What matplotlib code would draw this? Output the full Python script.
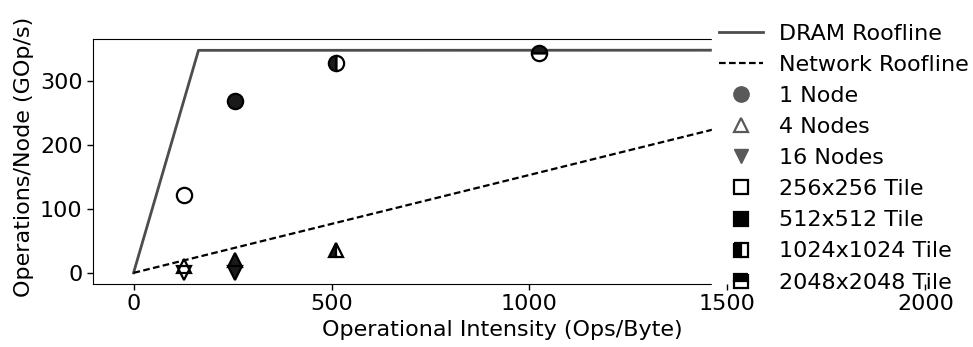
import numpy as np
import matplotlib
matplotlib.use("Agg")
import matplotlib.pyplot as plt
from matplotlib.lines import Line2D

# ---- data ----
roof_x = [0, 164, 2048]
dram_peak = 348
dram_bw = 2.12
net_bw = 0.153
dram_y = [min(dram_peak, dram_bw * v) for v in roof_x]
net_x = [0, 2048]
net_y = [net_bw * v for v in net_x]

tiles = ["256x256 Tile", "512x512 Tile", "1024x1024 Tile", "2048x2048 Tile"]
tile_fill = ["none", "full", "left", "top"]

node_labels = ["1 Node", "4 Nodes", "16 Nodes"]
node_markers = ["o", "^", "v"]
one_node_x = [128, 256, 512, 1024]
one_node_y = [122, 268, 328, 344]
one_node_t = [0, 1, 2, 3]
four_node_x = [128, 256, 512]
four_node_y = [11, 20, 36]
four_node_t = [0, 1, 2]
sixteen_node_x = [128, 256]
sixteen_node_y = [0, 0]
sixteen_node_t = [0, 1]

FS = 16
plt.rcParams['font.family'] = ['DejaVu Sans']
fig = plt.figure(figsize=(9.73, 3.47), dpi=100)
ax = fig.add_axes([93/973, 1-284/347, (985-93)/973, (284-39)/347])
ax.set_axisbelow(False)

ax.plot(roof_x, dram_y, color='0.3', lw=2, zorder=2)
ax.plot(net_x, net_y, color='black', lw=1.6, ls=(0, (3, 1.5)), zorder=2)

series = [(one_node_x, one_node_y, one_node_t, node_markers[0], 11),
          (four_node_x, four_node_y, four_node_t, node_markers[1], 10),
          (sixteen_node_x, sixteen_node_y, sixteen_node_t, node_markers[2], 10)]
for xs, ys, ts, mk, ms in series:
    for x, y, t in zip(xs, ys, ts):
        ax.plot([x], [y], marker=mk, ms=ms, mew=1.6, mec='black',
                mfc='0.1', mfcalt='white', fillstyle=tile_fill[t],
                ls='none', zorder=3)

ax.set_xticks([0, 500, 1000, 1500, 2000])
ax.set_yticks([0, 100, 200, 300])
ax.tick_params(labelsize=FS, length=4, width=1)
ax.set_xlabel("Operational Intensity (Ops/Byte)", fontsize=FS)
ax.set_ylabel("Operations/Node (GOp/s)", fontsize=FS)
ax.xaxis.set_label_coords((502-93)/(985-93), -0.145)
ax.yaxis.set_label_coords(-0.066, 0.52)
for s in ax.spines.values():
    s.set_zorder(2.2)

handles = [
    Line2D([], [], color='0.3', lw=2),
    Line2D([], [], color='black', lw=1.6, ls=(0, (3, 1.5))),
    Line2D([], [], marker='o', ls='none', ms=11, color='0.35'),
    Line2D([], [], marker='^', ls='none', ms=10, mfc='none', mec='0.35', mew=1.6),
    Line2D([], [], marker='v', ls='none', ms=10, color='0.35'),
]
for f in tile_fill:
    handles.append(Line2D([], [], marker='s', ls='none', ms=10, mec='black',
                          mfc='black', mfcalt='white', fillstyle=f, mew=1.6))
labels = ["DRAM Roofline", "Network Roofline"] + node_labels + tiles
leg = ax.legend(handles, labels, fontsize=FS, loc='upper left',
                bbox_to_anchor=(712/973, 1 - 17/347), bbox_transform=fig.transFigure,
                frameon=True, framealpha=1, edgecolor='white', facecolor='white',
                borderpad=0.3, labelspacing=0.5, handlelength=2.0,
                handletextpad=0.72, borderaxespad=0)
leg.set_zorder(2.4)

fig.savefig("out.png", dpi=100)
